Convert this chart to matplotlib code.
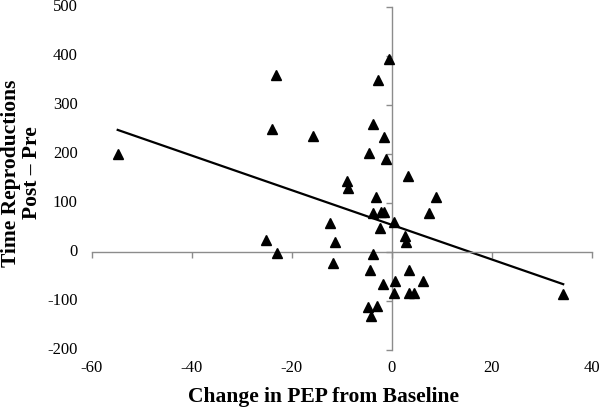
import numpy as np
import matplotlib
matplotlib.use("Agg")
import matplotlib.pyplot as plt
import matplotlib.transforms as mtransforms

pep_change = [-54.8, -23.1, -23.9, -15.8, -9.0, -8.8, -0.5, -2.7, -3.7, -1.5,
              -4.5, -1.2, 3.2, -3.2, 8.9, 7.5, -3.7, -2.2, -1.5, -12.4,
              0.5, -2.3, 2.6, 2.9, -11.4, -3.7, -11.7, -4.3, 3.4, -1.8,
              0.6, 6.3, 0.4, 3.5, 4.5, -4.8, -3.0, -4.1, 34.3, -25.2, -23.0]
time_repro = [201, 361, 252, 236, 145, 130, 393, 351, 261, 235,
              202, 189, 155, 113, 113, 80, 79, 81, 81, 60,
              61, 48, 33, 21, 20, -4, -23, -37, -37, -66,
              -60, -60, -83, -84, -84, -112, -110, -131, -86, 24, -3]

x_ticks = [-60, -40, -20, 0, 20, 40]
y_ticks = [-200, -100, 0, 100, 200, 300, 400, 500]

plt.rcParams['font.family'] = ['Liberation Serif', 'DejaVu Serif']

fig = plt.figure(figsize=(6.0, 4.19), dpi=100)
ax = fig.add_axes([91.7/600, 1-350/419, 500/600, 343/419])

ax.set_xlim(-60, 40)
ax.set_ylim(-200, 500)

x = np.array(pep_change)
y = np.array(time_repro)
ax.plot(x, y, linestyle='none', marker='^', markersize=6.5, color='black', zorder=3)

slope, intercept = np.polyfit(x, y, 1)
xl = np.array([x.min(), x.max()])
ax.plot(xl, slope*xl + intercept, color='black', linewidth=1.6, zorder=2)

for s in ['top', 'right']:
    ax.spines[s].set_visible(False)
ax.spines['left'].set_position(('data', 0))
ax.spines['bottom'].set_position(('data', 0))
for s in ['left', 'bottom']:
    ax.spines[s].set_color('#8c8c8c')
    ax.spines[s].set_linewidth(1.0)

ax.set_xticks(x_ticks)
ax.set_yticks(y_ticks)
ax.tick_params(axis='both', direction='out', length=4, width=1.0, color='#8c8c8c',
               labelleft=False, labelbottom=False)

ytr = mtransforms.blended_transform_factory(ax.transAxes, ax.transData)
for v in y_ticks:
    ax.text(-14/500, v, str(v), transform=ytr, ha='right', va='center', fontsize=12)
xtr = mtransforms.blended_transform_factory(ax.transData, ax.transAxes)
for v in x_ticks:
    ax.text(v, -18/343, str(v), transform=xtr, ha='center', va='center', fontsize=12)

fig.text(323/600, 1-397/419, 'Change in PEP from Baseline', ha='center', va='center',
         fontsize=15.5, fontweight='bold')
fig.text(21.5/600, 1-173/419, 'Time Reproductions\nPost \u2013 Pre', ha='center', va='center',
         rotation=90, fontsize=15.5, fontweight='bold', linespacing=1.1)

fig.savefig('out.png', dpi=100)
